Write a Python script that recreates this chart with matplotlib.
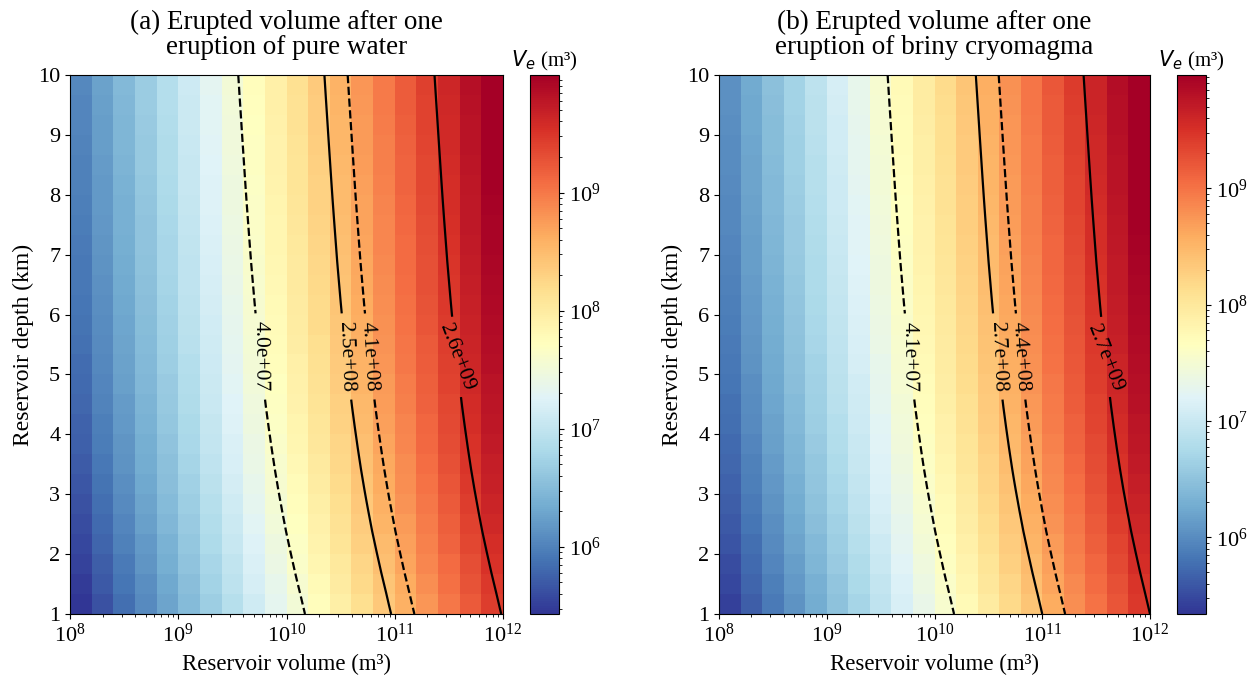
import matplotlib.pyplot as plt
import numpy as np
from matplotlib.colors import LogNorm

plt.rcParams['font.family'] = ['Liberation Serif', 'DejaVu Sans']
plt.rcParams['mathtext.fontset'] = 'dejavusans'

# reservoir volume nodes (m3) and depth nodes (km)
reservoir_volume = [1.0e8, 1.62e8, 2.64e8, 4.28e8, 6.95e8, 1.13e9, 1.83e9, 2.98e9,
                    4.83e9, 7.85e9, 1.27e10, 2.07e10, 3.36e10, 5.46e10, 8.86e10,
                    1.44e11, 2.34e11, 3.79e11, 6.16e11, 1.0e12]
depth_km = [1.0, 1.35, 1.69, 2.04, 2.38, 2.73, 3.08, 3.42, 3.77, 4.12, 4.46, 4.81,
            5.15, 5.5, 5.85, 6.19, 6.54, 6.88, 7.23, 7.58, 7.92, 8.27, 8.62, 8.96,
            9.31, 9.65, 10.0]

# erupted fraction of the reservoir for each depth node
fraction_erupted = [2.70e-3, 3.00e-3, 3.33e-3, 3.68e-3, 4.04e-3, 4.40e-3, 4.77e-3,
                    5.13e-3, 5.49e-3, 5.85e-3, 6.20e-3, 6.55e-3, 6.90e-3, 7.24e-3,
                    7.57e-3, 7.88e-3, 8.19e-3, 8.50e-3, 8.79e-3, 9.09e-3, 9.38e-3,
                    9.67e-3, 9.96e-3, 10.25e-3, 10.55e-3, 10.85e-3, 11.16e-3]

levels_water = [4.0e7, 2.5e8, 4.1e8, 2.6e9]
levels_brine = [4.1e7, 2.7e8, 4.4e8, 2.7e9]

# colour range of each colour bar
range_water = (2.7e5, 9.9e9)
range_brine = (2.2e5, 9.4e9)

titles = ["(a) Erupted volume after one\neruption of pure water",
          "(b) Erupted volume after one\neruption of briny cryomagma"]

W, H = 1257, 683
fig = plt.figure(figsize=(W / 100, H / 100), dpi=100)


def px_axes(x0, x1, y0, y1):
    return fig.add_axes([x0 / W, 1 - y1 / H, (x1 - x0) / W, (y1 - y0) / H])


def draw_panel(ax, cax, fraction, levels, crange, title):
    vol = np.array(reservoir_volume)
    dep = np.array(depth_km)
    ve = np.outer(fraction, vol)

    # cells: one per node, evenly spread over the axis range
    x_edges = np.logspace(np.log10(vol[0]), np.log10(vol[-1]), len(vol) + 1)
    y_edges = np.linspace(dep[0], dep[-1], len(dep) + 1)
    norm = LogNorm(vmin=crange[0], vmax=crange[1])
    mesh = ax.pcolormesh(x_edges, y_edges, ve, cmap='RdYlBu_r', norm=norm)

    cs = ax.contour(vol, dep, ve, levels=levels, colors='k',
                    linestyles=['--', '-', '--', '-'], linewidths=1.6)
    mid = list(dep).index(5.15)
    spots = [(lev / fraction[mid], 5.3) for lev in levels]
    ax.clabel(cs, fmt='%.1e', fontsize=15.5, inline=True, inline_spacing=8,
              manual=spots)

    ax.set_xscale('log')
    ax.set_xlim(vol[0], vol[-1])
    ax.set_ylim(dep[0], dep[-1])
    ax.set_yticks(range(1, 11))
    ax.set_xlabel("Reservoir volume (m³)", fontsize=16.5, labelpad=5)
    ax.set_ylabel("Reservoir depth (km)", fontsize=17, labelpad=3)
    ax.set_title(title, fontsize=19.5, pad=15, linespacing=1.0)
    ax.tick_params(labelsize=16)

    cb = fig.colorbar(mesh, cax=cax)
    cb.ax.tick_params(labelsize=16)
    cax.set_title("$V_e$ (m³)", fontsize=15, pad=6)


ax1 = px_axes(70, 503, 75, 614)
cax1 = px_axes(530, 559, 75, 614)
ax2 = px_axes(719, 1150, 75, 614)
cax2 = px_axes(1177, 1206, 75, 614)

draw_panel(ax1, cax1, fraction_erupted, levels_water, range_water, titles[0])
draw_panel(ax2, cax2, fraction_erupted, levels_brine, range_brine, titles[1])

fig.savefig("out.png", dpi=100)
